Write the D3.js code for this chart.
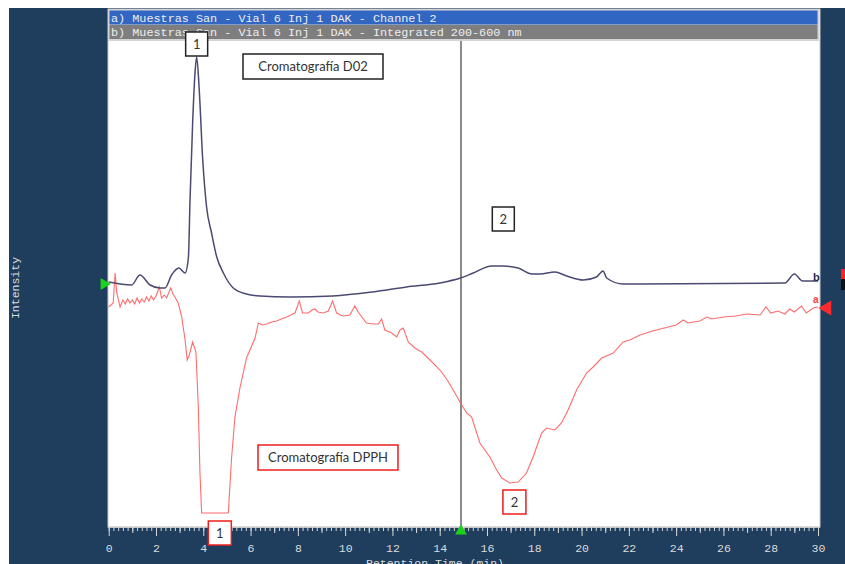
<!DOCTYPE html>
<html>
<head>
<meta charset="utf-8">
<script src="https://cdn.jsdelivr.net/npm/d3@7"></script>
<style>
  html, body { margin: 0; padding: 0; background: #ffffff; }
  svg { display: block; }
</style>
</head>
<body>
<svg id="chart" width="845" height="564"></svg>
<script>
// Retention time (min) and intensity readings, trace b: DAK integrated 200-600 nm
const timeB = [0, 0.97, 1.32, 1.75, 2.17, 2.38, 2.66, 2.97, 3.23, 3.37, 3.44, 3.55, 3.65, 3.72, 3.83, 3.97, 4.14, 4.35, 4.57, 4.85, 5.27, 5.83, 6.4, 7.66, 9.48, 11.17, 12.6, 14.0, 14.88, 15.42, 16.2, 16.7, 17.32, 17.9, 18.24, 18.87, 19.37, 20.07, 20.63, 20.91, 21.06, 21.76, 22.47, 28.6, 29.0, 29.35, 30];
const valueB = [2, -1, 9, -1, -4, -4, 9, 16, 11, 26, 84, 161, 211, 227, 194, 127, 77, 51, 27, 11, -4, -10, -12, -13, -12, -8, -3, 1, 6, 11, 18, 18, 16, 10, 10, 12, 8, 4, 7, 13, 6, 0, 0, 1, 10, 3, 3];

// Trace a: DAK channel 2 (DPPH)
const timeA = [0, 0.19, 0.27, 0.34, 0.48, 0.6, 0.7, 0.8, 0.9, 1.0, 1.1, 1.2, 1.3, 1.4, 1.5, 1.6, 1.7, 1.8, 1.9, 2.0, 2.14, 2.24, 2.35, 2.45, 2.62, 2.72, 2.8, 2.94, 3.09, 3.23, 3.32, 3.41, 3.55, 3.69, 3.79, 3.86, 3.93, 5.06, 5.2, 5.34, 5.55, 5.83, 6.19, 6.33, 6.5, 6.68, 6.9, 7.1, 7.3, 7.53, 7.7, 7.88, 8.06, 8.2, 8.44, 8.6, 8.72, 8.85, 9.07, 9.29, 9.47, 9.64, 9.8, 9.92, 10.2, 10.41, 10.55, 10.9, 11.19, 11.4, 11.54, 11.68, 11.97, 12.18, 12.32, 12.46, 12.67, 12.95, 13.24, 13.59, 14.01, 14.29, 14.57, 14.88, 15.14, 15.35, 15.7, 16.12, 16.41, 16.62, 16.97, 17.32, 17.67, 17.95, 18.31, 18.52, 18.87, 19.15, 19.43, 19.79, 20.21, 20.49, 20.85, 21.34, 21.76, 22.04, 22.47, 23.0, 23.5, 24.0, 24.3, 24.5, 25.0, 25.3, 25.5, 26.0, 26.5, 27.0, 27.55, 27.8, 28.0, 28.3, 28.6, 28.8, 29.0, 29.3, 29.5, 29.8, 30];
const valueA = [-23, -19, 11, -9, -23, -16, -20, -15, -19, -16, -20, -14, -19, -15, -18, -13, -17, -12, -16, -12, -3, -14, -11, -14, -4, -10, -13, -19, -33, -56, -76, -71, -58, -68, -123, -189, -229, -229, -173, -133, -104, -74, -54, -39, -41, -40, -38, -37, -35, -33, -31, -29, -17, -29, -29, -26, -25, -28, -29, -27, -17, -29, -31, -32, -31, -22, -28, -39, -40, -40, -35, -46, -49, -53, -46, -44, -58, -64, -68, -76, -86, -95, -106, -119, -129, -133, -159, -173, -186, -194, -199, -198, -189, -173, -149, -144, -146, -139, -126, -106, -89, -83, -74, -69, -58, -56, -51, -47, -44, -41, -36, -39, -37, -33, -35, -33, -32, -30, -31, -23, -29, -27, -30, -25, -28, -22, -29, -24, -23];

const seriesLabels = [
  "a) Muestras San - Vial 6 Inj 1 DAK - Channel 2",
  "b) Muestras San - Vial 6 Inj 1 DAK - Integrated 200-600 nm"
];
const majorTicks = d3.range(0, 31, 2);
const cursorTime = 14.9;

// Peak annotations: [time, intensity, label]
const peaksB = [[3.72, 240, "1"], [16.69, 65, "2"]];
const peaksA = [[4.7, -249, "1"], [17.16, -218, "2"]];

const W = 845, H = 564;
const panel = "#1f3e5e";
const svg = d3.select("#chart");

// outer frame
svg.append("rect").attr("width", W).attr("height", H).attr("fill", "#ffffff");
svg.append("rect").attr("x", 9).attr("y", 8).attr("width", W - 9).attr("height", H - 8).attr("fill", panel);

const plot = { left: 108, right: 820, top: 41, bottom: 527 };
svg.append("rect")
  .attr("x", plot.left).attr("y", 9)
  .attr("width", plot.right - plot.left).attr("height", plot.bottom - 9)
  .attr("fill", "#ffffff").attr("stroke", "#c8c8c8").attr("stroke-width", 1);

const x = d3.scaleLinear().domain([0, 30]).range([108.7, 818]);
const y = d3.scaleLinear().domain([-243, 243]).range([527, 41]);

// legend header rows
const rowColors = ["#3166c2", "#7e7e7e"];
const header = svg.append("g");
header.append("rect").attr("x", 108).attr("y", 9).attr("width", 711).attr("height", 32)
  .attr("fill", "#d4d4d4");
seriesLabels.forEach((lab, i) => {
  header.append("rect").attr("x", 109.5).attr("y", 10.5 + i * 14.5)
    .attr("width", 708).attr("height", 14).attr("fill", rowColors[i]);
  header.append("text").attr("x", 111).attr("y", 21.5 + i * 14.5)
    .attr("font-family", "Liberation Mono, Courier New, monospace")
    .attr("font-size", "11.8px").attr("fill", "#eeeeee")
    .text(lab);
});

// cursor line
svg.append("line")
  .attr("x1", x(cursorTime)).attr("x2", x(cursorTime))
  .attr("y1", plot.top).attr("y2", plot.bottom)
  .attr("stroke", "#8a8a8a").attr("stroke-width", 2);

const lineA = d3.line().x(d => x(d[0])).y(d => y(d[1])).curve(d3.curveLinear);
const lineB = d3.line().x(d => x(d[0])).y(d => y(d[1])).curve(d3.curveMonotoneX);

svg.append("path")
  .datum(d3.zip(timeA, valueA))
  .attr("d", lineA).attr("fill", "none")
  .attr("stroke", "#ff5c5c").attr("stroke-width", 1.1).attr("stroke-opacity", 0.9);

svg.append("path")
  .datum(d3.zip(timeB, valueB))
  .attr("d", lineB).attr("fill", "none")
  .attr("stroke", "#4a4a72").attr("stroke-width", 1.5);

// trace letters at right end
svg.append("text").attr("x", 813).attr("y", y(valueB[valueB.length - 1]) + 0)
  .attr("font-family", "Liberation Sans, Arial, sans-serif").attr("font-weight", "bold")
  .attr("font-size", "11px").attr("fill", "#2c2c4a").text("b");
svg.append("text").attr("x", 813).attr("y", y(valueA[valueA.length - 1]) - 4)
  .attr("font-family", "Liberation Sans, Arial, sans-serif").attr("font-weight", "bold")
  .attr("font-size", "10px").attr("fill", "#ff4040").text("a");

// x axis
const axisG = svg.append("g").attr("transform", `translate(0,${plot.bottom})`);
axisG.append("line").attr("x1", plot.left).attr("x2", plot.right)
  .attr("stroke", "#d8d8d8").attr("stroke-width", 1.5);
const minor = d3.range(0, 30.001, 0.2).map(v => +v.toFixed(1));
axisG.append("g").call(
  d3.axisBottom(x).tickValues(minor).tickSize(4).tickFormat("")
).call(g => g.select(".domain").remove());
axisG.append("g").call(
  d3.axisBottom(x).tickValues(d3.range(1, 30, 2)).tickSize(6).tickFormat("")
).call(g => g.select(".domain").remove());
axisG.append("g").call(
  d3.axisBottom(x).tickValues(majorTicks).tickSize(9).tickPadding(8)
).call(g => g.select(".domain").remove());
axisG.selectAll("line").attr("stroke", "#d8d8d8");
axisG.selectAll("text")
  .attr("fill", "#dcdcdc")
  .attr("font-family", "Liberation Mono, Courier New, monospace")
  .attr("font-size", "11.5px");

svg.append("text").attr("x", 435).attr("y", 567).attr("text-anchor", "middle")
  .attr("font-family", "Liberation Mono, Courier New, monospace")
  .attr("font-size", "11.5px").attr("fill", "#dcdcdc")
  .text("Retention Time (min)");

svg.append("text")
  .attr("transform", "translate(19,288) rotate(-90)")
  .attr("text-anchor", "middle")
  .attr("font-family", "Liberation Mono, Courier New, monospace")
  .attr("font-size", "11.5px").attr("fill", "#dcdcdc")
  .text("Intensity");

// markers
const tri = d3.symbol().type(d3.symbolTriangle).size(60);
svg.append("path").attr("d", tri())
  .attr("transform", `translate(104,${y(0)}) rotate(90)`).attr("fill", "#19d219");
svg.append("path").attr("d", tri())
  .attr("transform", `translate(${x(cursorTime)},531) rotate(0)`).attr("fill", "#19d219");
svg.append("path").attr("d", d3.symbol().type(d3.symbolTriangle).size(95)())
  .attr("transform", `translate(827,${y(-24)}) rotate(-90)`).attr("fill", "#ff2a2a");
svg.append("rect").attr("x", 841).attr("y", 269).attr("width", 6).attr("height", 10).attr("fill", "#ff2020");
svg.append("rect").attr("x", 841).attr("y", 279).attr("width", 6).attr("height", 11).attr("fill", "#111111");

// annotation boxes
function box(cx, cy, w, h, label, color, size) {
  const g = svg.append("g");
  g.append("rect").attr("x", cx - w / 2).attr("y", cy - h / 2)
    .attr("width", w).attr("height", h)
    .attr("fill", "#ffffff").attr("stroke", color).attr("stroke-width", 1.5);
  g.append("text").attr("x", cx).attr("y", cy + size * 0.36)
    .attr("text-anchor", "middle")
    .attr("font-family", "Lato, Open Sans, sans-serif")
    .attr("font-size", size + "px").attr("fill", "#333333").text(label);
}
peaksB.forEach(p => box(x(p[0]), y(p[1]), 22, 24, p[2], "#222222", 13));
peaksA.forEach(p => box(x(p[0]), y(p[1]), 23, 24, p[2], "#ee1c1c", 13));
box(313, 66.5, 140, 25, "Cromatografía D02", "#222222", 13);
box(328, 457.5, 140, 25, "Cromatografía DPPH", "#ee1c1c", 13);
</script>
</body>
</html>
